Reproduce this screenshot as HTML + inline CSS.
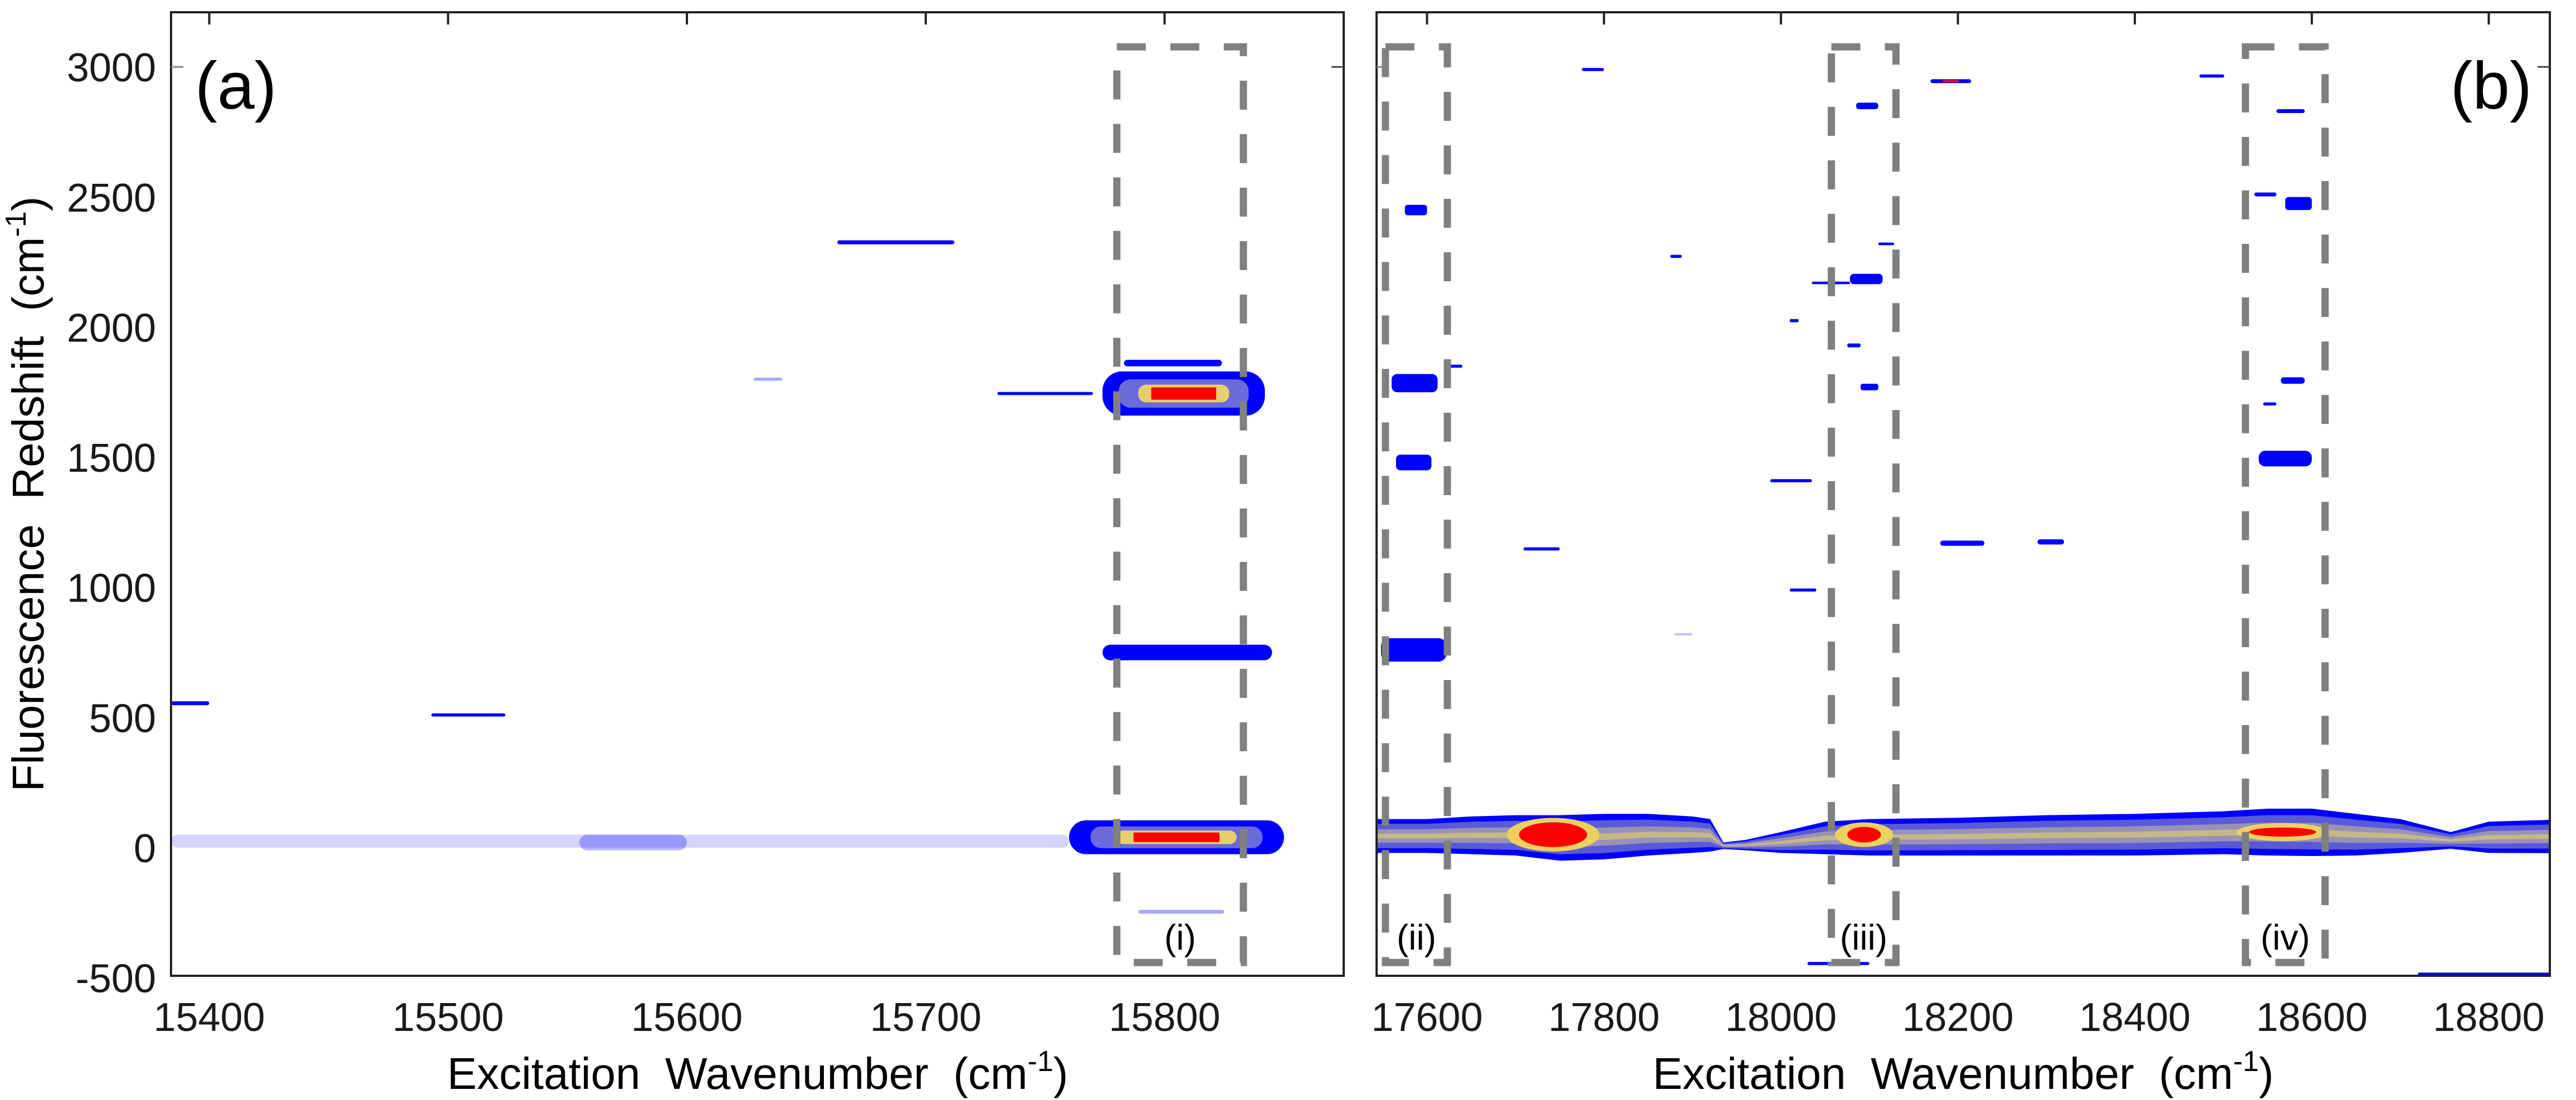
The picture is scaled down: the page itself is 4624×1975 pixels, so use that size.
<!DOCTYPE html>
<html><head><meta charset="utf-8"><style>
html,body{margin:0;padding:0;background:#fff;}
svg{display:block;font-family:"Liberation Sans",sans-serif;}
</style></head><body>
<svg id="fig" width="4624" height="1975" viewBox="0 0 4624 1975" xmlns="http://www.w3.org/2000/svg">
<g id="plotA"></g>
<g id="plotB"></g>
<g id="axes"></g>
<text x="350" y="195" font-size="120">(a)</text>
<text x="4545" y="195" font-size="120" text-anchor="end">(b)</text>
<text transform="translate(78,887) rotate(-90)" font-size="80" text-anchor="middle">Fluorescence&#160; Redshift&#160; (cm<tspan font-size="52" dy="-32">-1</tspan><tspan dy="32">)</tspan></text>
<text x="1360" y="1955" font-size="80" text-anchor="middle">Excitation&#160; Wavenumber&#160; (cm<tspan font-size="52" dy="-32">-1</tspan><tspan dy="32">)</tspan></text>
<text x="3524" y="1955" font-size="80" text-anchor="middle">Excitation&#160; Wavenumber&#160; (cm<tspan font-size="52" dy="-32">-1</tspan><tspan dy="32">)</tspan></text>
</svg>
<script>
// ---- data ----
const yTicks = [-500,0,500,1000,1500,2000,2500,3000];
const aTicks = [15400,15500,15600,15700,15800];
const bTicks = [17600,17800,18000,18200,18400,18600,18800];
// panel a features: x0, x1, redshift, thickness, intensity
const aX0 = [15774,15783,15774,15760,15384,15555,15789,15663,15384,15493,15628,15730];
const aX1 = [15842,15824,15845,15850,15760,15600,15825,15712,15400,15524,15640,15770];
const aY  = [1745,1862,750,40,25,20,-246,2326,555,510,1800,1745];
const aH  = [170,25,60,130,50,60,15,15,15,12,12,12];
const aI  = [0.9,0.6,0.6,1.0,0.2,0.35,0.4,0.7,0.7,0.6,0.4,0.6];
// panel b band edges
const bandX   = [17543,17600,17650,17700,17750,17800,17850,17900,17920,17935,17960,18000,18050,18100,18200,18300,18400,18500,18550,18600,18650,18700,18757,18800,18869];
const bandTop = [110,110,120,125,125,130,130,120,110,20,30,60,100,110,115,125,130,140,150,150,130,110,60,100,107];
const bandBot = [-20,-20,-25,-30,-50,-45,-30,-20,-15,-5,-10,-20,-25,-30,-30,-30,-30,-25,-30,-32,-30,-20,-4,-20,-21];
// panel b hot spots: x0, x1, redshift, thickness
const hotX0 = [17704,18075,18529];
const hotX1 = [17781,18113,18605];
const hotY  = [50,50,60];
const hotH  = [95,60,35];
// panel b features
const bX0 = [17575,17560,17565,17548,17620,18085,18078,18035,18075,18090,18110,18010,17988,18010,17775,18169,18473,18560,18535,18570,18565,18545,18540,18180,18290,17709,17875,18030,18720,17880];
const bX1 = [17600,17612,17605,17622,17640,18110,18115,18078,18090,18110,18128,18020,18035,18040,17800,18215,18501,18592,18560,18600,18592,18560,18600,18230,18320,17750,17888,18100,18869,17900];
const bY  = [2450,1785,1480,760,1850,2850,2185,2170,1930,1770,2320,2025,1410,990,2990,2945,2965,2830,2510,2475,1795,1705,1495,1170,1175,1148,2272,-445,-485,820];
const bH  = [40,70,60,90,12,25,40,10,15,25,10,12,12,12,12,15,12,15,15,50,25,12,60,20,20,12,12,12,10,8];
const bI  = [0.6,0.6,0.6,0.7,0.6,0.7,0.6,0.5,0.7,0.7,0.5,0.6,0.8,0.8,0.5,1.0,0.7,0.7,0.6,0.7,0.6,0.5,0.7,0.6,0.6,0.8,0.5,0.8,0.7,0.3];
// dashed boxes
const boxX0 = [15780,17553,18057,18525];
const boxX1 = [15833,17623,18130,18615];
const boxLabels = ['(i)','(ii)','(iii)','(iv)'];
const boxTop = 3077, boxBot = -441;

// ---- axes geometry ----
const NS='http://www.w3.org/2000/svg';
const A={l:307,r:2412,x0:15384,x1:15875};
const B={l:2471,r:4577,x0:17543,x1:18869};
const T=22, BOT=1752, Y0=1522, YS=0.4673;
const sy = v => Y0 - v*YS;
const sxA = v => A.l + (v-A.x0)*(A.r-A.l)/(A.x1-A.x0);
const sxB = v => B.l + (v-B.x0)*(B.r-B.l)/(B.x1-B.x0);
function mk(tag, attrs, parent){const e=document.createElementNS(NS,tag);for(const k in attrs)e.setAttribute(k,attrs[k]);parent.appendChild(e);return e;}
const gA=document.getElementById('plotA'), gB=document.getElementById('plotB'), gX=document.getElementById('axes');

function clipFor(id,P){const d=mk('clipPath',{id:id},document.getElementById('fig'));mk('rect',{x:P.l,y:T,width:P.r-P.l,height:BOT-T},d);}
clipFor('ca',A);clipFor('cb',B);
gA.setAttribute('clip-path','url(#ca)');gB.setAttribute('clip-path','url(#cb)');

function blob(g,sx,x0,x1,y,h,I){
  const X0=sx(x0),X1=sx(x1),w=X1-X0,hh=Math.max(h*YS,4),cy=sy(y);
  const op = I<0.5 ? I*1.1 : 1;
  const rx=Math.min(w*0.12,hh/2);
  const r=mk('rect',{x:X0,y:cy-hh/2,width:w,height:hh,rx:rx,fill:I<0.5?'#3a3aff':'#0000ff','fill-opacity':op},g);
  
  
  if(I>=0.8 && hh>20){
    const m=mk('rect',{x:X0+w*0.1,y:cy-hh*0.32,width:w*0.8,height:hh*0.64,rx:rx*0.6,fill:'#6a6ad8'},g);
    
    
    const y2=mk('rect',{x:X0+w*0.22,y:cy-hh*0.2,width:w*0.56,height:hh*0.4,rx:rx*0.4,fill:'#e6cf6a'},g);
    
    
  }
  if(I>=0.9){
    const rr=mk('rect',{x:X0+w*0.3,y:cy-Math.max(hh*0.14,2),width:w*0.4,height:Math.max(hh*0.28,4),rx:2,fill:'#ff0000'},g);
    
    
  }
}
for(let i=0;i<aX0.length;i++) blob(gA,sxA,aX0[i],aX1[i],aY[i],aH[i],aI[i]);

// band b
function bandPoly(frac, attrs, name){
  let p=[];
  for(let i=0;i<bandX.length;i++){const m=(bandTop[i]+bandBot[i])/2,hw=(bandTop[i]-bandBot[i])/2*frac;p.push(sxB(bandX[i])+','+sy(m+hw));}
  for(let i=bandX.length-1;i>=0;i--){const m=(bandTop[i]+bandBot[i])/2,hw=(bandTop[i]-bandBot[i])/2*frac;p.push(sxB(bandX[i])+','+sy(m-hw));}
  attrs.points=p.join(' ');
  const e=mk('polygon',attrs,gB);
  
  
}
bandPoly(1,{fill:'#0000ff'},'elastic-band');
bandPoly(0.72,{fill:'#5a5ad6'},'elastic-band-mid');
bandPoly(0.4,{fill:'#a8a0b0','fill-opacity':0.8},'elastic-band-core');
bandPoly(0.14,{fill:'#dcc870','fill-opacity':0.7},'elastic-band-ridge');
for(let i=0;i<hotX0.length;i++){
  const X0=sxB(hotX0[i]),X1=sxB(hotX1[i]),cy=sy(hotY[i]),hh=hotH[i]*YS;
  const hy=mk('ellipse',{cx:(X0+X1)/2,cy:cy,rx:(X1-X0)/2+22,ry:hh/2+8,fill:'#eed060'},gB);
  
  
  const hr=mk('ellipse',{cx:(X0+X1)/2,cy:cy,rx:(X1-X0)/2,ry:hh/2,fill:'#ff0000'},gB);
  
  
}
for(let i=0;i<bX0.length;i++) blob(gB,sxB,bX0[i],bX1[i],bY[i],bH[i],bI[i]);

// frames, ticks
[[A,sxA,aTicks,'a'],[B,sxB,bTicks,'b']].forEach(([P,sx,ticks,n])=>{
  const f=mk('rect',{x:P.l,y:T,width:P.r-P.l,height:BOT-T,fill:'none',stroke:'#222','stroke-width':4},gX);
  
  
  ticks.forEach(t=>{
    const x=sx(t);
    mk('line',{x1:x,y1:T,x2:x,y2:T+22,stroke:'#222','stroke-width':4},gX);
    const tl=mk('text',{x:x,y:1851,'font-size':72,'text-anchor':'middle',fill:'#1a1a1a'},gX);
    tl.textContent=t;
    
    
  });
  mk('line',{x1:P.r,y1:sy(3000),x2:P.r-22,y2:sy(3000),stroke:'#444','stroke-width':3},gX);
  mk('line',{x1:P.l,y1:sy(3000),x2:P.l+22,y2:sy(3000),stroke:'#888','stroke-width':3},gX);
});
yTicks.forEach(t=>{
  const tl=mk('text',{x:280,y:sy(t)+26,'font-size':72,'text-anchor':'end',fill:'#1a1a1a'},gX);
  tl.textContent=t;
  
  
});
// dashed boxes
for(let i=0;i<boxX0.length;i++){
  const sx=i===0?sxA:sxB;
  const X0=sx(boxX0[i]),X1=sx(boxX1[i]);
  const r=mk('rect',{x:X0,y:sy(boxTop),width:X1-X0,height:sy(boxBot)-sy(boxTop),fill:'none',stroke:'#808080','stroke-width':13,'stroke-dasharray':'52 44'},gX);
  
  
  const lb=mk('text',{x:(X0+X1)/2,y:1705,'font-size':64,'text-anchor':'middle',fill:'#000'},gX);
  lb.textContent=boxLabels[i];
  
  
}
</script>
</body></html>
